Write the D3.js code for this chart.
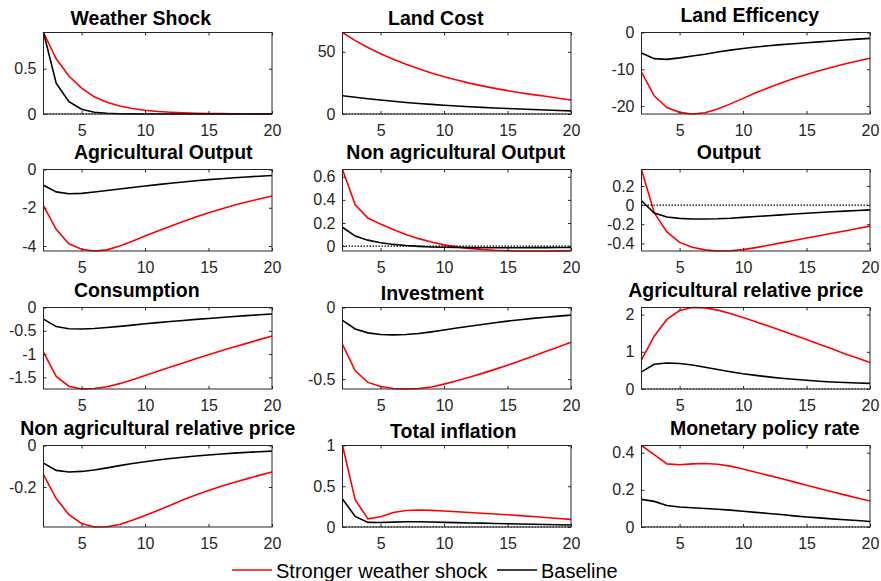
<!DOCTYPE html>
<html>
<head>
<meta charset="utf-8">
<script src="https://cdn.jsdelivr.net/npm/d3@7"></script>
<style>
body { margin: 0; background: #fff; }
text { font-family: "Liberation Sans", Arial, sans-serif; }
</style>
</head>
<body>
<svg id="chart-svg" width="881" height="581"></svg>
<script>
var periods = [2, 3, 4, 5, 6, 7, 8, 9, 10, 11, 12, 13, 14, 15, 16, 17, 18, 19, 20];

var titles = ["Weather Shock", "Land Cost", "Land Efficency",
    "Agricultural Output", "Non agricultural Output", "Output",
    "Consumption", "Investment", "Agricultural relative price",
    "Non agricultural relative price", "Total inflation", "Monetary policy rate"];

var seriesNames = ["Stronger weather shock", "Baseline"];

// stronger weather shock (red) / baseline (black)
var weatherStrong = [0.9, 0.61, 0.42, 0.285, 0.19, 0.13, 0.088, 0.06, 0.041, 0.028, 0.019, 0.013, 0.009, 0.006, 0.004, 0.003, 0.002, 0.001, 0.001];
var weatherBase = [0.9, 0.34, 0.137, 0.052, 0.02, 0.008, 0.003, 0.001, 0.0005, 0, 0, 0, 0, 0, 0, 0, 0, 0, 0];

var landCostStrong = [65.5, 59, 53.5, 48.5, 44, 40, 36.3, 33, 30, 27.3, 24.8, 22.6, 20.6, 18.8, 17.1, 15.6, 14.2, 12.7, 11.2];
var landCostBase = [14.7, 13.4, 12.3, 11.2, 10.2, 9.3, 8.5, 7.7, 7.0, 6.4, 5.8, 5.3, 4.8, 4.4, 4.0, 3.6, 3.2, 2.8, 2.5];

var landEffStrong = [-10.8, -17.2, -20.4, -21.7, -22.15, -21.8, -20.8, -19.4, -17.9, -16.4, -15.0, -13.7, -12.5, -11.4, -10.4, -9.45, -8.55, -7.75, -7.0];
var landEffBase = [-5.6, -7.1, -7.3, -6.9, -6.4, -5.9, -5.3, -4.8, -4.35, -3.95, -3.6, -3.3, -3.05, -2.8, -2.55, -2.3, -2.05, -1.8, -1.6];

var agriOutStrong = [-1.9, -3.13, -3.88, -4.17, -4.26, -4.2, -4.0, -3.75, -3.48, -3.22, -2.97, -2.72, -2.48, -2.26, -2.06, -1.87, -1.7, -1.54, -1.39];
var agriOutBase = [-0.82, -1.17, -1.27, -1.25, -1.18, -1.1, -1.02, -0.94, -0.86, -0.79, -0.72, -0.65, -0.59, -0.53, -0.48, -0.43, -0.39, -0.35, -0.31];

var nonAgriOutStrong = [0.663, 0.357, 0.243, 0.19, 0.143, 0.1, 0.064, 0.035, 0.01, -0.007, -0.02, -0.03, -0.037, -0.041, -0.043, -0.043, -0.043, -0.042, -0.041];
var nonAgriOutBase = [0.163, 0.086, 0.051, 0.029, 0.014, 0.004, -0.003, -0.008, -0.011, -0.013, -0.014, -0.015, -0.015, -0.015, -0.015, -0.014, -0.014, -0.013, -0.013];

var outputStrong = [0.372, -0.08, -0.28, -0.39, -0.44, -0.468, -0.48, -0.478, -0.466, -0.445, -0.42, -0.395, -0.37, -0.345, -0.32, -0.295, -0.27, -0.245, -0.22];
var outputBase = [0.045, -0.083, -0.124, -0.139, -0.145, -0.146, -0.143, -0.137, -0.128, -0.12, -0.111, -0.102, -0.093, -0.085, -0.077, -0.07, -0.063, -0.056, -0.05];

var consStrong = [-0.96, -1.48, -1.69, -1.75, -1.74, -1.7, -1.635, -1.55, -1.46, -1.37, -1.28, -1.19, -1.1, -1.015, -0.93, -0.85, -0.77, -0.69, -0.61];
var consBase = [-0.25, -0.41, -0.455, -0.463, -0.452, -0.43, -0.405, -0.378, -0.35, -0.325, -0.301, -0.278, -0.256, -0.235, -0.214, -0.194, -0.175, -0.156, -0.138];

var invStrong = [-0.258, -0.442, -0.523, -0.552, -0.565, -0.569, -0.565, -0.555, -0.535, -0.512, -0.487, -0.46, -0.432, -0.403, -0.372, -0.341, -0.308, -0.275, -0.242];
var invBase = [-0.09, -0.15, -0.177, -0.188, -0.191, -0.189, -0.182, -0.17, -0.157, -0.143, -0.131, -0.119, -0.107, -0.095, -0.085, -0.076, -0.068, -0.06, -0.053];

var agriPriceStrong = [0.78, 1.42, 1.87, 2.11, 2.19, 2.18, 2.12, 2.03, 1.92, 1.81, 1.69, 1.57, 1.45, 1.33, 1.2, 1.08, 0.95, 0.83, 0.71];
var agriPriceBase = [0.46, 0.665, 0.7, 0.685, 0.645, 0.585, 0.525, 0.465, 0.41, 0.365, 0.325, 0.29, 0.26, 0.235, 0.21, 0.19, 0.175, 0.16, 0.15];

var nonAgriPriceStrong = [-0.141, -0.256, -0.333, -0.376, -0.393, -0.392, -0.381, -0.361, -0.338, -0.313, -0.288, -0.262, -0.239, -0.217, -0.197, -0.178, -0.161, -0.144, -0.128];
var nonAgriPriceBase = [-0.085, -0.12, -0.128, -0.125, -0.118, -0.108, -0.097, -0.087, -0.078, -0.07, -0.063, -0.057, -0.051, -0.046, -0.041, -0.037, -0.033, -0.03, -0.027];

var inflStrong = [1.0, 0.335, 0.1, 0.125, 0.178, 0.203, 0.208, 0.204, 0.196, 0.187, 0.178, 0.169, 0.16, 0.151, 0.14, 0.128, 0.117, 0.105, 0.094];
var inflBase = [0.343, 0.13, 0.057, 0.056, 0.06, 0.064, 0.064, 0.061, 0.057, 0.054, 0.05, 0.047, 0.043, 0.04, 0.037, 0.034, 0.031, 0.028, 0.025];

var rateStrong = [0.439, 0.39, 0.34, 0.335, 0.34, 0.342, 0.338, 0.328, 0.312, 0.295, 0.278, 0.261, 0.243, 0.225, 0.207, 0.19, 0.173, 0.156, 0.14];
var rateBase = [0.149, 0.138, 0.116, 0.108, 0.104, 0.1, 0.096, 0.091, 0.085, 0.079, 0.073, 0.067, 0.06, 0.054, 0.049, 0.044, 0.039, 0.035, 0.03];

var xTicks = [5, 10, 15, 20];
var yTicks = [[0, 0.5], [0, 50], [-20, -10, 0],
    [-4, -2, 0], [0, 0.2, 0.4, 0.6], [-0.4, -0.2, 0, 0.2],
    [-1.5, -1, -0.5, 0], [-0.5, 0], [0, 1, 2],
    [-0.2, 0], [0, 0.5, 1], [0, 0.2, 0.4]];

var strongSeries = [weatherStrong, landCostStrong, landEffStrong, agriOutStrong, nonAgriOutStrong, outputStrong,
    consStrong, invStrong, agriPriceStrong, nonAgriPriceStrong, inflStrong, rateStrong];
var baseSeries = [weatherBase, landCostBase, landEffBase, agriOutBase, nonAgriOutBase, outputBase,
    consBase, invBase, agriPriceBase, nonAgriPriceBase, inflBase, rateBase];

// layout
var colLeft = [43.5, 342.5, 641.5];
var rowTop = [32.5, 169.5, 307.5, 445.5];
var plotW = 228.5;
var plotH = 81.5;
var titleShift = [-17, -21, -6, 5.5, -1, -27, -21, -24.5, -10, 0, -3.5, 9];
var axisColor = "#262626";

var svg = d3.select("#chart-svg");

titles.forEach(function(title, i) {
    var g = svg.append("g")
        .attr("transform", "translate(" + colLeft[i % 3] + "," + rowTop[Math.floor(i / 3)] + ")");

    var x = d3.scaleLinear().domain([2, 20]).range([0, plotW]);
    var ext = d3.extent(strongSeries[i].concat(baseSeries[i], [0]));
    var y = d3.scaleLinear().domain(ext).range([plotH, 0]);

    var line = d3.line()
        .x((d, k) => x(periods[k]))
        .y(d => y(d));

    g.append("path").datum(strongSeries[i])
        .attr("d", line).attr("fill", "none")
        .attr("stroke", "#ff0000").attr("stroke-width", 1.6);
    g.append("path").datum(baseSeries[i])
        .attr("d", line).attr("fill", "none")
        .attr("stroke", "#000000").attr("stroke-width", 1.6);

    g.append("line")
        .attr("x1", x(2)).attr("x2", x(20))
        .attr("y1", y(0)).attr("y2", y(0))
        .attr("stroke", "#000").attr("stroke-width", 1.2)
        .attr("stroke-dasharray", "1.5,1.5");

    // axes, ticks pointing inward like matlab
    var fmt = d => String(d);
    var bottom = g.append("g").attr("transform", "translate(0," + plotH + ")")
        .call(d3.axisBottom(x).tickValues(xTicks).tickSize(-3).tickPadding(10.5).tickFormat(fmt));
    var top = g.append("g")
        .call(d3.axisTop(x).tickValues(xTicks).tickSize(-3).tickFormat(""));
    var left = g.append("g")
        .call(d3.axisLeft(y).tickValues(yTicks[i]).tickSize(-3).tickPadding(7).tickFormat(fmt));
    var right = g.append("g").attr("transform", "translate(" + plotW + ",0)")
        .call(d3.axisRight(y).tickValues(yTicks[i]).tickSize(-3).tickFormat(""));

    [bottom, top, left, right].forEach(function(a) {
        a.select(".domain").remove();
        a.selectAll("line").attr("stroke", axisColor);
        a.selectAll("text")
            .attr("fill", axisColor)
            .style("font-size", "16px")
            .style("font-family", "'Liberation Sans', Arial, sans-serif");
    });

    g.append("rect")
        .attr("width", plotW).attr("height", plotH)
        .attr("fill", "none").attr("stroke", axisColor).attr("stroke-width", 1);

    var hasDesc = /[gjpqy]/.test(title);
    g.append("text")
        .attr("x", plotW / 2 + titleShift[i])
        .attr("y", hasDesc ? -11 : -7.5)
        .attr("text-anchor", "middle")
        .style("font-size", "19.5px")
        .style("font-weight", "bold")
        .attr("fill", "#000")
        .text(title);
});

// legend
var legend = svg.append("g");
var legendItems = [
    {name: seriesNames[0], color: "#ff0000", x: 232},
    {name: seriesNames[1], color: "#000000", x: 497}
];
legendItems.forEach(function(d) {
    legend.append("line")
        .attr("x1", d.x).attr("x2", d.x + 40)
        .attr("y1", 570).attr("y2", 570)
        .attr("stroke", d.color).attr("stroke-width", 1.5);
    legend.append("text")
        .attr("x", d.x + 44).attr("y", 577.5)
        .style("font-size", "20px")
        .attr("fill", "#000")
        .text(d.name);
});
</script>
</body>
</html>
